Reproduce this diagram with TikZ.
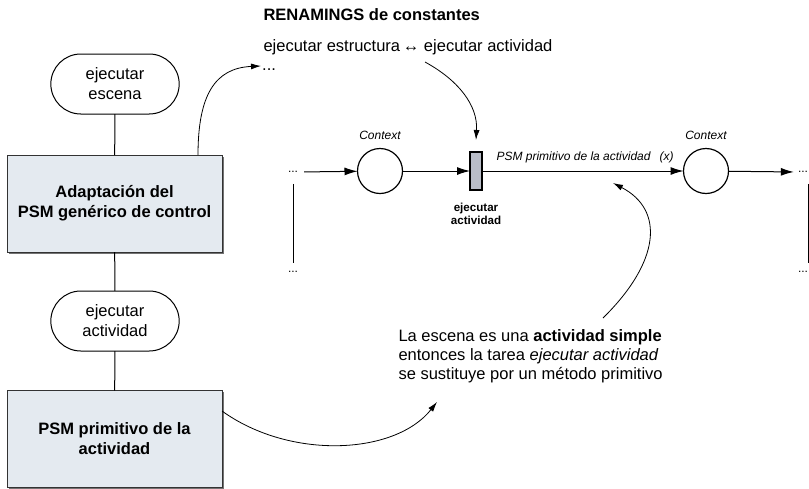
\documentclass[tikz,border=0pt]{standalone}
\usepackage{fontspec}
\setmainfont{Liberation Sans}
\usetikzlibrary{shapes.misc,shadows,arrows.meta}
\definecolor{cajafondo}{RGB}{228,234,240}
\definecolor{transfondo}{RGB}{185,189,200}
\newcommand{\grande}{\fontsize{16.5}{20}\selectfont}
\newcommand{\chico}{\fontsize{12}{14}\selectfont}

\begin{document}
\begin{tikzpicture}[x=1pt,y=-1pt,
		paso/.style={draw,rounded rectangle,minimum width=135pt,minimum height=60pt,align=center,font=\grande,line width=1pt,outer sep=0pt},
		metodo/.style={draw=black!80,fill=cajafondo,minimum width=215pt,minimum height=97pt,align=center,font=\grande\bfseries,line width=1pt,outer sep=0pt,
			drop shadow={shadow xshift=1.5pt,shadow yshift=-1.5pt,fill=black!55,opacity=1}},
		lugar/.style={draw,circle,minimum size=45pt,line width=1.2pt,outer sep=0pt},
		transicion/.style={draw,fill=transfondo,minimum width=12pt,minimum height=38pt,inner sep=0pt,line width=1.2pt,outer sep=0pt},
		puntitos/.style={font=\chico,inner sep=1pt},
		arco/.style={-{Latex[length=13pt,width=8pt]},line width=1pt},
		flecha/.style={-{Latex[length=10pt,width=6pt]},line width=0.8pt}]
	\useasboundingbox (0,0) rectangle (809,488);
	% pasos de la izquierda
	\node[paso] (escena) at (115,84) {ejecutar\\escena};
	\node[metodo] (adapt) at (114.5,203.5) {Adaptación del\\PSM genérico de control};
	\node[paso] (ejact) at (115,321) {ejecutar\\actividad};
	\node[metodo] (prim) at (114.5,439) {PSM primitivo de la\\actividad};
	\draw[line width=1pt] (escena) -- (adapt);
	\draw[line width=1pt] (adapt) -- (ejact);
	\draw[line width=1pt] (ejact) -- (prim);
	% renamings
	\node[anchor=west,font=\grande\bfseries] (renam) at (260,15) {RENAMINGS de constantes};
	\node[anchor=west,font=\grande] (regla) at (260,47) {ejecutar estructura\,↔ ejecutar actividad};
	\node[anchor=west,font=\grande,inner sep=1pt] (puntos) at (261,70) {...};
	% red
	\node[puntitos] (pin) at (293,172) {...};
	\node[puntitos] (bin) at (293,272) {...};
	\node[puntitos] (pout) at (803,172) {...};
	\node[puntitos] (bout) at (803,272) {...};
	\node[lugar] (ctx1) at (380,171) {};
	\node[transicion] (trans) at (476,171) {};
	\node[lugar] (ctx2) at (706,171) {};
	\node[font=\chico\itshape] (lab1) at (380,135) {Context};
	\node[font=\chico\itshape] (lab2) at (706,135) {Context};
	\node[font=\chico\itshape,anchor=west] (labarco) at (493,157) {PSM primitivo de la actividad\hspace{9pt}(x)};
	\node[font=\fontsize{11.6}{13.5}\selectfont\bfseries,align=center] (labtrans) at (476,214) {ejecutar\\actividad};
	\draw[arco,shorten <=5pt] (pin.east) -- (ctx1);
	\draw[arco] (ctx1) -- (trans);
	\draw[arco] (trans) -- (ctx2);
	\draw[arco,shorten >=3pt] (ctx2) -- (pout.west);
	\draw[line width=1pt,shorten <=10pt,shorten >=7pt] (pin.south) -- (bin.north);
	\draw[line width=1pt,shorten <=10pt,shorten >=7pt] ([xshift=5pt]pout.south) -- ([xshift=5pt]bout.north);
	% texto de abajo
	\node[anchor=west,align=left,font=\fontsize{16.5}{19}\selectfont] (texto) at (395,356)
		{La escena es una \textbf{actividad simple}\\entonces la tarea \textit{ejecutar actividad}\\se sustituye por un método primitivo};
	\coordinate (salida) at (603,318);
	\coordinate (meta) at (613,183);
	% flechas curvas
	\draw[flecha] ([xshift=-24pt]adapt.north east) .. controls (198,95) and (215,68) .. ([yshift=4pt]puntos.west);
	\draw[flecha] (425,62) .. controls (458,80) and (478,105) .. ([yshift=12pt]trans.north);
	\draw[flecha] (salida) .. controls (660,262) and (665,210) .. (meta);
	\draw[flecha] ([yshift=28pt]prim.east) .. controls (290,460) and (395,455) .. (437,402);
\end{tikzpicture}
\end{document}
